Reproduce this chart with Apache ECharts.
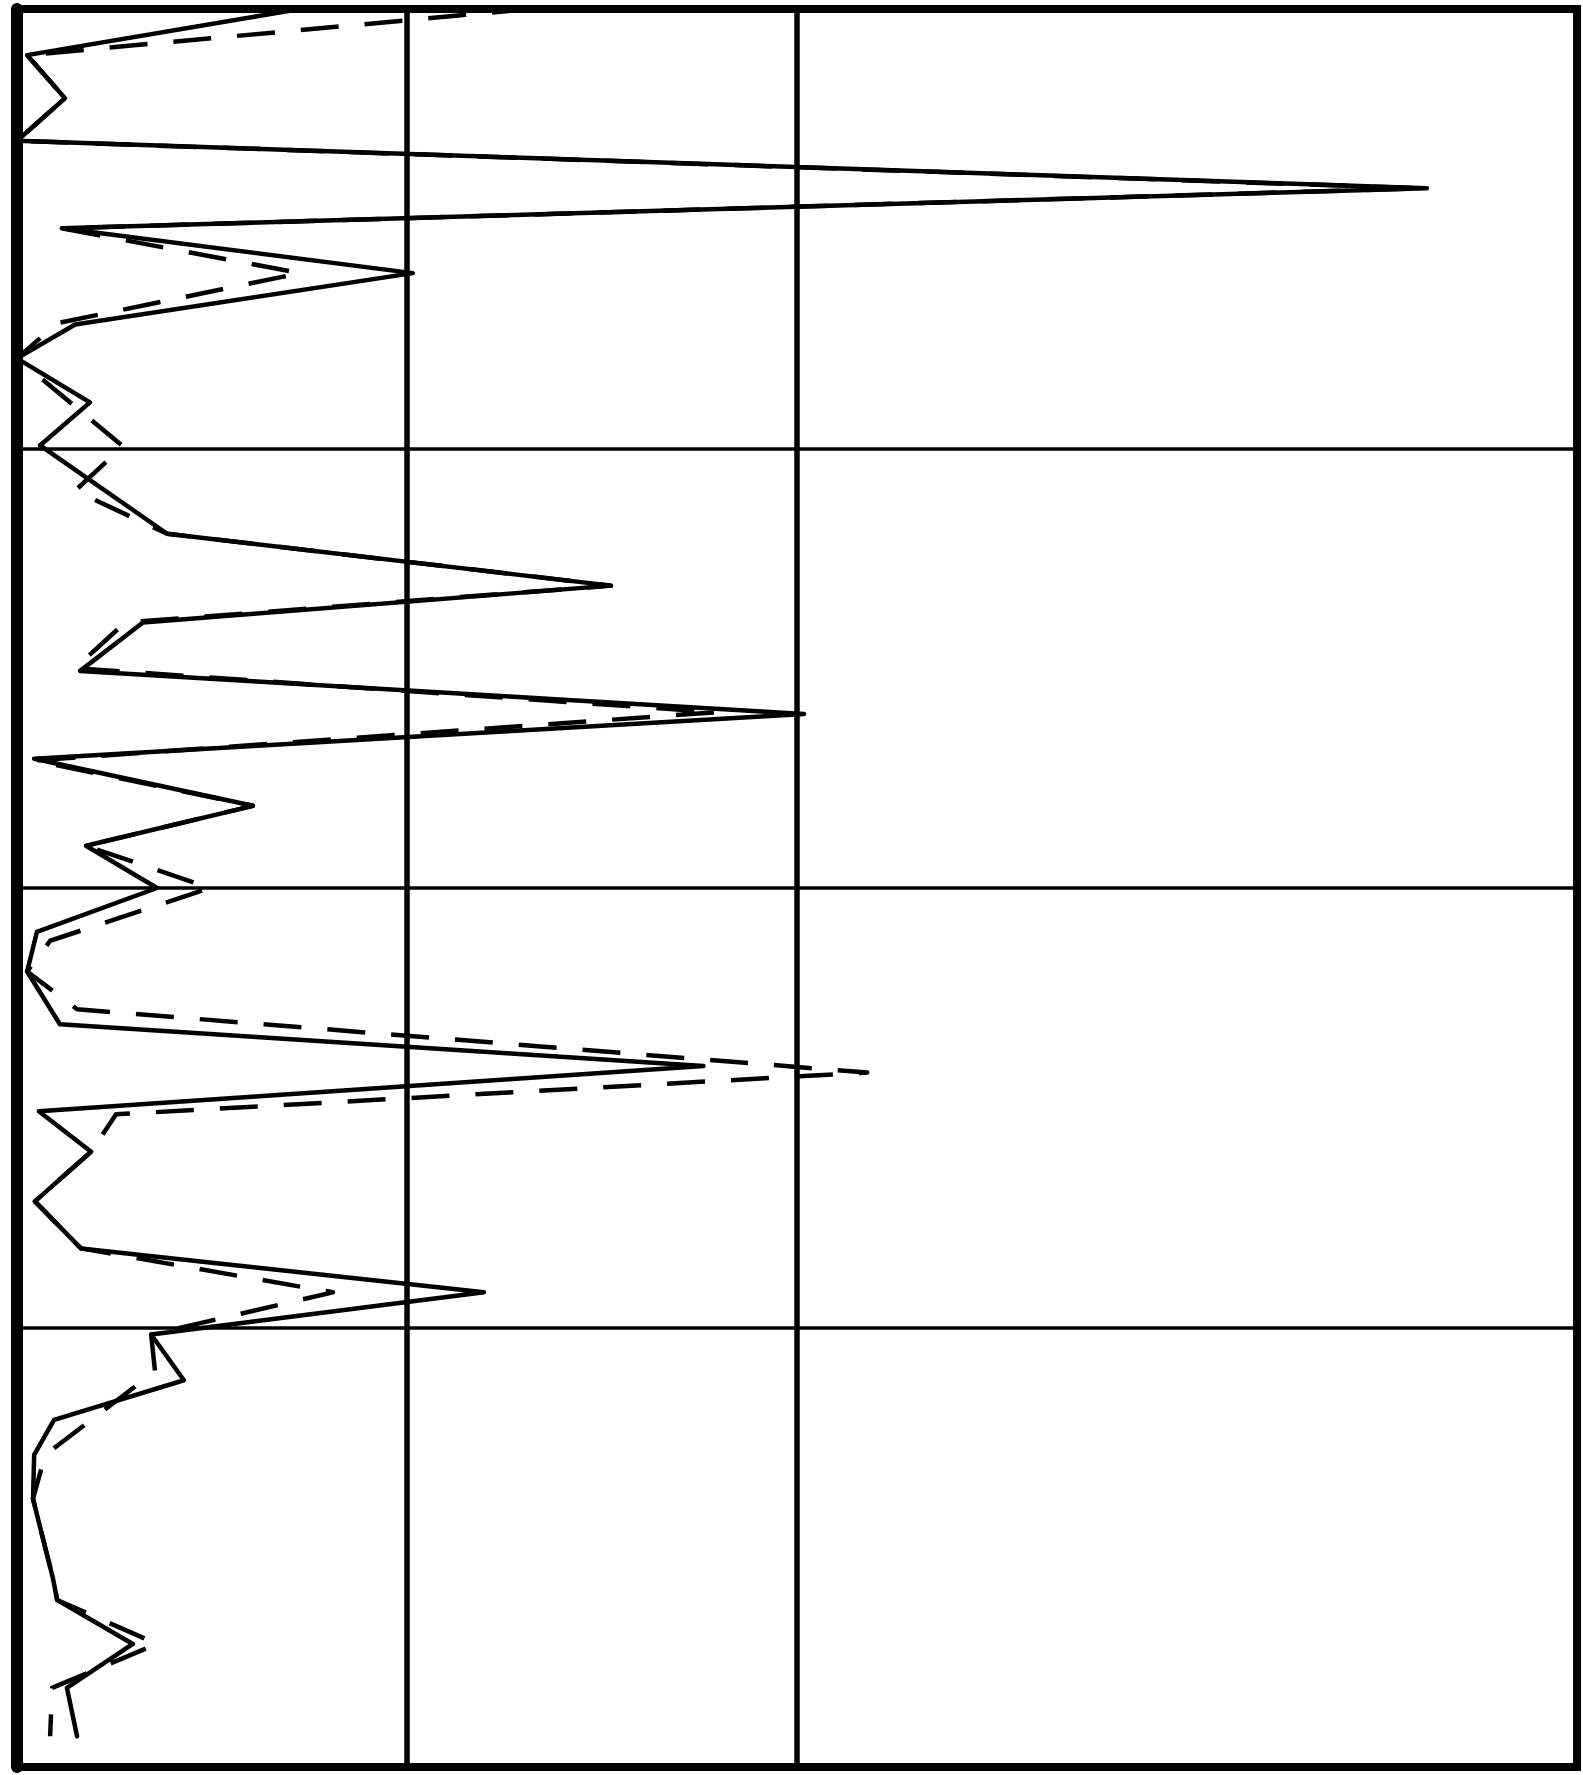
<!DOCTYPE html>
<html>
<head>
<meta charset="utf-8">
<script src="https://cdn.jsdelivr.net/npm/echarts@6/dist/echarts.min.js"></script>
<style>
  html, body { margin: 0; padding: 0; background: #fff; }
  #chart { width: 1583px; height: 1775px; }
</style>
</head>
<body>
<div id="chart"></div>
<script>
// depth (down the sheet) and reading for the solid trace
const solidDepth = [0, 0.105, 0.203, 0.30, 0.408, 0.499, 0.601, 0.718, 0.795, 0.895, 0.993, 1.194, 1.312, 1.396, 1.506, 1.604, 1.706, 1.813, 1.904, 2.0, 2.10, 2.19, 2.31, 2.405, 2.508, 2.60, 2.713, 2.82, 2.92, 3.016, 3.12, 3.21, 3.29, 3.39, 3.57, 3.62, 3.72, 3.82, 3.93];
const solidValue = [0.726, 0.026, 0.123, 0.0, 3.615, 0.115, 1.015, 0.149, 0.0, 0.187, 0.059, 0.385, 1.523, 0.323, 0.162, 2.018, 0.044, 0.605, 0.177, 0.359, 0.051, 0.026, 0.11, 1.76, 0.056, 0.19, 0.046, 0.164, 1.197, 0.344, 0.428, 0.095, 0.044, 0.041, 0.092, 0.103, 0.297, 0.128, 0.154];

// dashed trace
const dashDepth = [0, 0.105, 0.203, 0.30, 0.408, 0.499, 0.601, 0.715, 0.795, 0.995, 1.096, 1.194, 1.312, 1.396, 1.50, 1.60, 1.71, 1.813, 1.904, 2.0, 2.12, 2.19, 2.276, 2.42, 2.515, 2.60, 2.713, 2.82, 2.92, 3.016, 3.10, 3.29, 3.39, 3.57, 3.62, 3.72, 3.82, 3.93];
const dashValue = [1.315, 0.026, 0.123, 0.0, 3.6, 0.115, 0.726, 0.103, 0.0, 0.272, 0.149, 0.385, 1.523, 0.277, 0.149, 1.795, 0.044, 0.605, 0.177, 0.495, 0.085, 0.026, 0.154, 2.18, 0.254, 0.19, 0.046, 0.164, 0.81, 0.344, 0.354, 0.072, 0.041, 0.092, 0.103, 0.359, 0.09, 0.085];

// only these verticals are ruled on the sheet
const verticalRules = [1, 2];

const chart = echarts.init(document.getElementById('chart'), null, { renderer: 'canvas' });

const pairs = (xs, ys) => xs.map((v, i) => [v, ys[i]]);

chart.setOption({
    backgroundColor: '#fff',
    animation: false,
    grid: {
        left: 17, right: 6, top: 9, bottom: 8,
        show: true,
        borderColor: '#000',
        borderWidth: 8,
        backgroundColor: '#fff'
    },
    xAxis: {
        type: 'value', min: 0, max: 4, interval: 1,
        axisLine: { show: false }, axisTick: { show: false },
        axisLabel: { show: false }, splitLine: { show: false }
    },
    yAxis: {
        type: 'value', min: 0, max: 4, interval: 1, inverse: true,
        // the left edge of the sheet is ruled heavier
        axisLine: { show: true, lineStyle: { color: '#000', width: 12 } },
        axisTick: { show: false },
        axisLabel: { show: false },
        splitLine: { show: true, lineStyle: { color: '#000', width: 3.5 } }
    },
    series: [
        {
            type: 'line',
            data: pairs(solidValue, solidDepth),
            symbol: 'none',
            lineStyle: { color: '#000', width: 4.5, join: 'round', cap: 'round' },
            markLine: {
                silent: true,
                symbol: ['none', 'none'],
                label: { show: false },
                lineStyle: { color: '#000', width: 5.5, type: 'solid' },
                data: verticalRules.map(v => ({ xAxis: v }))
            }
        },
        {
            type: 'line',
            data: pairs(dashValue, dashDepth),
            symbol: 'none',
            lineStyle: { color: '#000', width: 4.5, type: [38, 26], join: 'round' }
        }
    ]
});
</script>
</body>
</html>
